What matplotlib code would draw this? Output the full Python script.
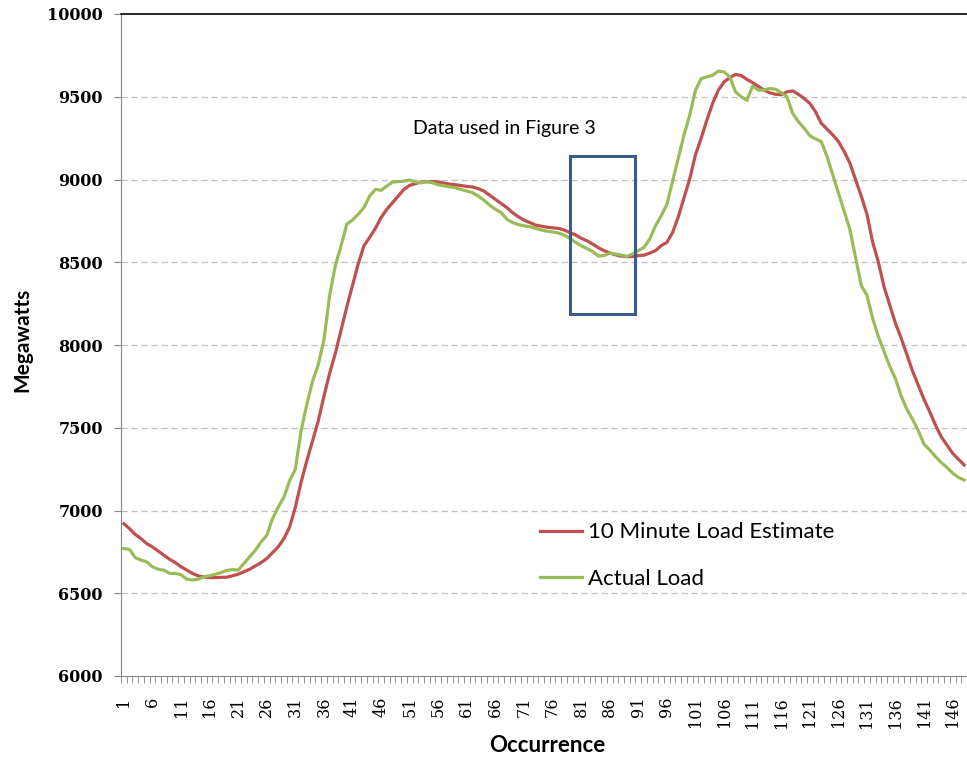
import numpy as np
import matplotlib
matplotlib.use('Agg')
import matplotlib.pyplot as plt
from matplotlib.patches import Rectangle

# occurrences 1..148
occurrence = np.arange(1, 149)

# 10 minute load estimate (MW)
estimate = [6920, 6890, 6855, 6830, 6800, 6780, 6755, 6730, 6705, 6685,
            6660, 6640, 6620, 6605, 6598, 6595, 6595, 6596, 6597, 6605,
            6615, 6630, 6645, 6665, 6685, 6710, 6745, 6780, 6830, 6900,
            7020, 7170, 7300, 7420, 7540, 7690, 7830, 7950, 8090, 8230,
            8360, 8490, 8600, 8650, 8705, 8770, 8820, 8860, 8900, 8940,
            8965, 8975, 8985, 8987, 8987, 8985, 8978, 8972, 8968, 8964,
            8958, 8955, 8945, 8930, 8905, 8880, 8855, 8830, 8800, 8775,
            8755, 8740, 8725, 8718, 8712, 8708, 8705, 8695, 8680, 8665,
            8645, 8630, 8610, 8588, 8570, 8556, 8545, 8537, 8534, 8535,
            8540, 8543, 8555, 8570, 8600, 8620, 8680, 8775, 8890, 9005,
            9150, 9250, 9360, 9460, 9540, 9590, 9615, 9635, 9628, 9605,
            9585, 9563, 9540, 9524, 9515, 9512, 9530, 9535, 9515, 9490,
            9460, 9410, 9340, 9305, 9270, 9230, 9170, 9100, 9000, 8900,
            8790, 8620, 8500, 8350, 8240, 8130, 8040, 7940, 7840, 7755,
            7670, 7595, 7515, 7445, 7395, 7345, 7310, 7275]

# actual load (MW)
actual = [6770, 6765, 6715, 6700, 6690, 6660, 6645, 6640, 6620, 6620,
          6612, 6585, 6580, 6585, 6600, 6605, 6615, 6625, 6638, 6643,
          6640, 6680, 6720, 6760, 6810, 6850, 6950, 7020, 7080, 7180,
          7250, 7480, 7640, 7780, 7880, 8030, 8300, 8480, 8600, 8730,
          8755, 8790, 8830, 8900, 8940, 8935, 8960, 8985, 8987, 8990,
          8997, 8985, 8980, 8987, 8980, 8968, 8962, 8956, 8950, 8940,
          8930, 8920, 8900, 8875, 8845, 8820, 8800, 8760, 8740, 8728,
          8720, 8715, 8705, 8695, 8688, 8683, 8677, 8665, 8645, 8620,
          8600, 8583, 8565, 8538, 8540, 8555, 8550, 8544, 8535, 8550,
          8570, 8590, 8640, 8720, 8780, 8850, 8990, 9130, 9270, 9390,
          9540, 9610, 9620, 9630, 9655, 9650, 9620, 9530, 9500, 9478,
          9565, 9540, 9540, 9550, 9545, 9525, 9500, 9400, 9350, 9310,
          9265, 9245, 9229, 9140, 9030, 8920, 8810, 8700, 8530, 8360,
          8300, 8160, 8050, 7960, 7870, 7795, 7690, 7610, 7550, 7480,
          7400, 7365, 7325, 7290, 7260, 7225, 7200, 7184]

x_labels = list(range(1, 149, 5))
y_ticks = list(range(6000, 10001, 500))

# box around the data used in figure 3 (occurrence / MW)
box_x = [79.1, 90.5]
box_y = [8187, 9142]

RED = '#C0504D'
GREEN = '#9BBB59'
AXIS_GREY = '#868686'

fig = plt.figure(figsize=(9.67, 7.57), dpi=100)
ax = fig.add_axes([121 / 967, 1 - 676 / 757, 846 / 967, 662 / 757])

ax.plot(occurrence, estimate, color=RED, lw=2.3, label='10 Minute Load Estimate', zorder=3)
ax.plot(occurrence, actual, color=GREEN, lw=2.3, label='Actual Load', zorder=3)

ax.set_xlim(0.5, 148.5)
ax.set_ylim(6000, 10000)

# grid
for v in y_ticks[1:-1]:
  ax.axhline(v, color='#BFBFBF', lw=0.9, ls=(0, (5, 3)), zorder=1)

ax.add_patch(Rectangle((box_x[0], box_y[0]), box_x[1] - box_x[0], box_y[1] - box_y[0],
                       fill=False, edgecolor='#385D8A', lw=2.2, zorder=4))
ax.text(67.5, 9311, 'Data used in Figure 3', family='Lato', fontsize=14,
        ha='center', va='center', color='black')

# axes styling
ax.spines['right'].set_visible(False)
ax.spines['top'].set_color('black')
ax.spines['top'].set_linewidth(1.2)
ax.spines['left'].set_color(AXIS_GREY)
ax.spines['bottom'].set_color(AXIS_GREY)

ax.set_yticks(y_ticks)
ax.set_yticklabels([str(v) for v in y_ticks], family='DejaVu Serif', fontweight='bold', fontsize=11.5)
ax.tick_params(axis='y', length=5, color=AXIS_GREY, pad=8, direction='out')

ax.set_xticks(x_labels)
ax.set_xticklabels([str(v) for v in x_labels], family='DejaVu Serif', fontsize=11.5, rotation=90)
ax.set_xticks(np.arange(0.5, 149, 1), minor=True)
ax.tick_params(axis='x', which='major', length=0, pad=15)
ax.tick_params(axis='x', which='minor', length=5, color=AXIS_GREY, direction='out')

# axis titles placed where the reference has them
fig.text(22 / 967, 1 - 340 / 757, 'Megawatts', family='Lato', fontweight='bold', fontsize=15,
         rotation=90, ha='center', va='center')
fig.text(547 / 967, 1 - 745 / 757, 'Occurrence', family='Lato', fontweight='bold', fontsize=16,
         ha='center', va='center')

leg = ax.legend(loc='upper left', bbox_to_anchor=(0.495, 0.232), frameon=False,
                prop={'family': 'Lato', 'size': 16}, handlelength=1.9,
                handletextpad=0.25, labelspacing=1.2, borderpad=0, borderaxespad=0)

fig.savefig('out.png', dpi=100)
